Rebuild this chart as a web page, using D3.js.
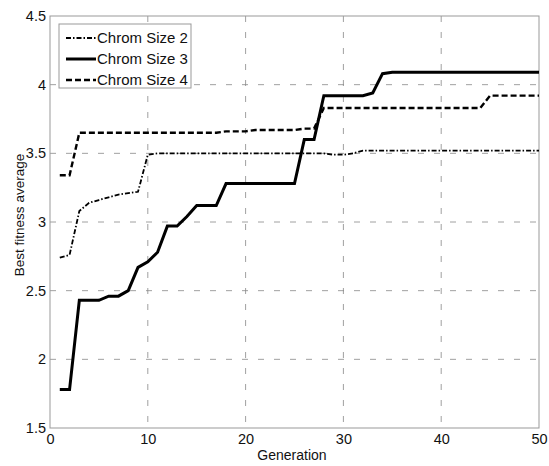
<!DOCTYPE html>
<html>
<head>
<meta charset="utf-8">
<script src="https://cdn.jsdelivr.net/npm/d3@7"></script>
<style>
  body { margin: 0; background: #fff; }
  text { font-family: "Liberation Sans", Arial, sans-serif; fill: #111; }
</style>
</head>
<body>
<svg width="549" height="466"></svg>
<script>
const generations = d3.range(1, 51);

const chrom2 = [2.74, 2.76, 3.08, 3.14, 3.16, 3.18, 3.20, 3.21, 3.22, 3.49,
                3.50, 3.50, 3.50, 3.50, 3.50, 3.50, 3.50, 3.50, 3.50, 3.50,
                3.50, 3.50, 3.50, 3.50, 3.50, 3.50, 3.50, 3.50, 3.49, 3.49,
                3.50, 3.52, 3.52, 3.52, 3.52, 3.52, 3.52, 3.52, 3.52, 3.52,
                3.52, 3.52, 3.52, 3.52, 3.52, 3.52, 3.52, 3.52, 3.52, 3.52];

const chrom3 = [1.78, 1.78, 2.43, 2.43, 2.43, 2.46, 2.46, 2.50, 2.67, 2.71,
                2.78, 2.97, 2.97, 3.04, 3.12, 3.12, 3.12, 3.28, 3.28, 3.28,
                3.28, 3.28, 3.28, 3.28, 3.28, 3.60, 3.60, 3.92, 3.92, 3.92,
                3.92, 3.92, 3.94, 4.08, 4.09, 4.09, 4.09, 4.09, 4.09, 4.09,
                4.09, 4.09, 4.09, 4.09, 4.09, 4.09, 4.09, 4.09, 4.09, 4.09];

const chrom4 = [3.34, 3.34, 3.65, 3.65, 3.65, 3.65, 3.65, 3.65, 3.65, 3.65,
                3.65, 3.65, 3.65, 3.65, 3.65, 3.65, 3.65, 3.66, 3.66, 3.66,
                3.67, 3.67, 3.67, 3.67, 3.67, 3.68, 3.68, 3.83, 3.83, 3.83,
                3.83, 3.83, 3.83, 3.83, 3.83, 3.83, 3.83, 3.83, 3.83, 3.83,
                3.83, 3.83, 3.83, 3.83, 3.92, 3.92, 3.92, 3.92, 3.92, 3.92];

const seriesNames = ['Chrom Size 2', 'Chrom Size 3', 'Chrom Size 4'];
const xTicks = [0, 10, 20, 30, 40, 50];
const yTicks = [1.5, 2, 2.5, 3, 3.5, 4, 4.5];

const svg = d3.select('svg');
const margin = {top: 16, right: 10, bottom: 38, left: 50};
const width = 549 - margin.left - margin.right;
const height = 466 - margin.top - margin.bottom;

const g = svg.append('g').attr('transform', `translate(${margin.left},${margin.top})`);

const x = d3.scaleLinear().domain([0, 50]).range([0, width]);
const y = d3.scaleLinear().domain([1.5, 4.5]).range([height, 0]);

// grid
g.append('g')
    .selectAll('line')
    .data(xTicks.slice(1, -1))
    .enter().append('line')
    .attr('x1', d => x(d)).attr('x2', d => x(d))
    .attr('y1', 0).attr('y2', height)
    .attr('stroke', '#888')
    .attr('stroke-width', 0.8)
    .attr('stroke-dasharray', '6,10');

g.append('g')
    .selectAll('line')
    .data(yTicks.slice(1, -1))
    .enter().append('line')
    .attr('x1', 0).attr('x2', width)
    .attr('y1', d => y(d)).attr('y2', d => y(d))
    .attr('stroke', '#888')
    .attr('stroke-width', 0.8)
    .attr('stroke-dasharray', '6,10');

// box
g.append('rect')
    .attr('width', width).attr('height', height)
    .attr('fill', 'none')
    .attr('stroke', '#999')
    .attr('stroke-width', 1);

// axes
const xAxis = d3.axisBottom(x).tickValues(xTicks).tickSize(0).tickPadding(6);
const yAxis = d3.axisLeft(y).tickValues(yTicks).tickSize(0).tickPadding(4)
    .tickFormat(d3.format('~g'));

g.append('g').attr('transform', `translate(0,${height})`).call(xAxis)
    .call(s => s.select('.domain').remove())
    .selectAll('text').attr('font-size', 14.5)
    .attr('font-family', '"Liberation Sans", Arial, sans-serif');

g.append('g').call(yAxis)
    .call(s => s.select('.domain').remove())
    .selectAll('text').attr('font-size', 14.5)
    .attr('font-family', '"Liberation Sans", Arial, sans-serif');

svg.append('text')
    .attr('x', 292)
    .attr('y', 460)
    .attr('text-anchor', 'middle')
    .attr('font-size', 14)
    .text('Generation');

svg.append('text')
    .attr('transform', 'translate(24,215) rotate(-90)')
    .attr('text-anchor', 'middle')
    .attr('font-size', 13.5)
    .text('Best fitness average');

// lines
const styles = [
    {data: chrom2, width: 1.8, dash: '5,2,1.5,2'},
    {data: chrom3, width: 3, dash: null},
    {data: chrom4, width: 2.4, dash: '6,3'}
];

const line = d3.line()
    .x((d, i) => x(generations[i]))
    .y(d => y(d));

styles.forEach(s => {
    g.append('path')
        .datum(s.data)
        .attr('fill', 'none')
        .attr('stroke', '#000')
        .attr('stroke-width', s.width)
        .attr('stroke-dasharray', s.dash)
        .attr('d', line);
});

// legend
const legend = svg.append('g').attr('transform', 'translate(59,24)');
legend.append('rect')
    .attr('width', 132).attr('height', 64)
    .attr('fill', '#fff')
    .attr('stroke', '#999')
    .attr('stroke-width', 1);

seriesNames.forEach((name, i) => {
    const ly = 14 + i * 21;
    legend.append('line')
        .attr('x1', 7).attr('x2', 37)
        .attr('y1', ly).attr('y2', ly)
        .attr('stroke', '#000')
        .attr('stroke-width', styles[i].width)
        .attr('stroke-dasharray', styles[i].dash);
    legend.append('text')
        .attr('x', 38).attr('y', ly + 5)
        .attr('font-size', 15)
        .text(name);
});
</script>
</body>
</html>
